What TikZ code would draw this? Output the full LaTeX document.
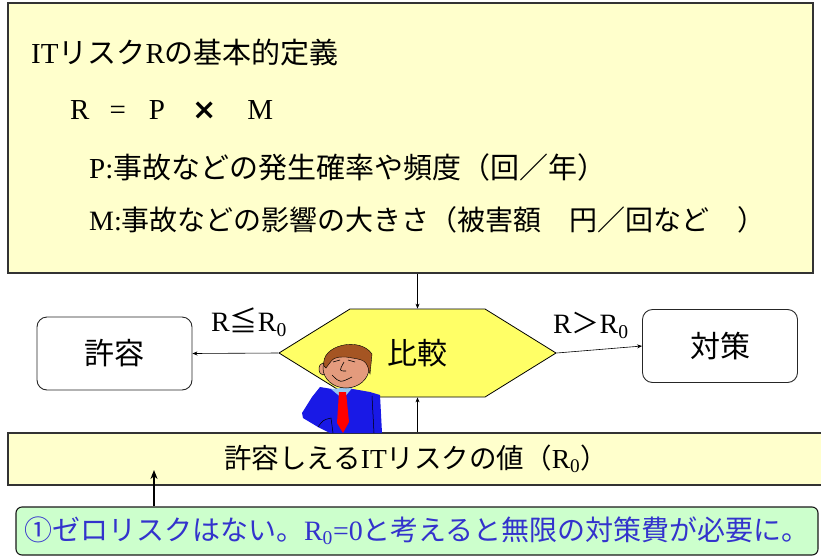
\documentclass[tikz,border=0pt]{standalone}
\usepackage{fontspec}
\setmainfont{Noto Sans CJK JP}
\newfontfamily\lat{Liberation Serif}
\newfontfamily\sym{DejaVu Sans}
\usetikzlibrary{arrows.meta,positioning,calc,shapes.symbols}

\definecolor{paleyellow}{RGB}{255,255,204}
\definecolor{hexyellow}{RGB}{255,255,102}
\definecolor{palegreen}{RGB}{204,255,204}
\definecolor{notetext}{RGB}{51,51,204}
\definecolor{suitblue}{RGB}{25,25,230}
\definecolor{collarblue}{RGB}{150,200,240}
\definecolor{skin}{RGB}{228,155,125}
\definecolor{hairbrown}{RGB}{165,85,35}

\newcommand{\fs}[1]{\fontsize{#1}{#1}\selectfont}
\newcommand{\Rz}{{\lat R\textsubscript{0}}}

\begin{document}
\begin{tikzpicture}[x=1pt, y=-1pt,
    defbox/.style={draw=black!80, line width=1.2pt, fill=paleyellow,
        minimum width=805pt, minimum height=270pt},
    deftext/.style={anchor=west, inner sep=0pt, font=\fs{29}},
    judge/.style={shape=signal, signal to=west and east, signal pointer angle=63.6,
        draw=black, line width=0.8pt, fill=hexyellow, inner sep=0pt,
        minimum width=277pt, minimum height=88pt, font=\fs{30}},
    result/.style={draw=black!85, line width=0.9pt, rounded corners=10pt,
        minimum width=155pt, minimum height=73pt, font=\fs{30}},
    limbox/.style={draw=black!80, line width=1.4pt, fill=paleyellow,
        minimum width=816pt, minimum height=52pt, font=\fs{27.5}},
    notebox/.style={draw=black!90, line width=1.1pt, fill=palegreen, rounded corners=6pt,
        minimum width=802pt, minimum height=48pt, text=notetext, font=\fs{28}},
    lbl/.style={inner sep=0pt, font=\fs{28}},
    conn/.style={-{Stealth[length=5pt,width=4pt]}, line width=0.6pt}]
    \useasboundingbox (0,0) rectangle (821,557);

    % definition of R
    \node[defbox] (def) at (410.5,138) {};
    \node[deftext] (d1) at (31,52) {{\lat IT}リスク{\lat R}の基本的定義};
    \node[deftext] (d2) at (70,110) {{\lat R\hspace{20pt}=\hspace{23pt}P}\hspace{27pt}{\sym\bfseries ×}\hspace{31pt}{\lat M}};
    \node[deftext] (d3) at (89,167) {{\lat P:}事故などの発生確率や頻度（回／年）};
    \node[deftext, font=\fs{28}] (d4) at (89,220) {{\lat M:}事故などの影響の大きさ（被害額　円／回など　）};

    \node[judge] (cmp) at (417.5,353) {比較};
    \node[result] (ok) at (114.5,353.5) {許容};
    \node[result] (act) at (720,346) {対策};
    \node[limbox] (lim) at (416,459) {許容しえる{\lat IT}リスクの値（\Rz）};
    \node[notebox] (note) at (417,531) {①ゼロリスクはない。\Rz{\lat =0}と考えると無限の対策費が必要に。};
    \coordinate (limtip) at (154,470);

    \draw[conn] (def.south -| cmp.north) -- (cmp.north);
    \draw[conn] (cmp.west) -- node[lbl, pos=0.34, yshift=31pt] {{\lat R}≦\Rz} (ok.east);
    \draw[conn] (cmp.east) -- node[lbl, pos=0.4, yshift=25pt] {{\lat R}＞\Rz} (act.west);
    \draw[conn] (lim.north -| cmp.south) -- (cmp.south);

    % the man at the comparison
    \fill[suitblue] (320,387) -- (312,397) -- (302,413) -- (303,418) -- (318,427) -- (330,433)
        -- (382,433) -- (380,395) -- (370,392) -- (353,389) -- (332,389) -- cycle;
    \draw[line width=0.5pt] (318,427) .. controls (323,420) .. (331,418) -- (333,433);
    \draw[line width=0.5pt] (372,396) -- (374,433);
    \fill[collarblue] (331,389) -- (353,387) -- (343,399) -- cycle;
    \fill[red] (339,392) -- (346,392) -- (349,422) -- (343,433) -- (337,423) -- cycle;
    \filldraw[fill=skin, line width=0.5pt] (323,369) ellipse (4 and 6);
    \filldraw[fill=skin, line width=0.5pt] (346,368) ellipse (23 and 20);
    \filldraw[fill=hairbrown, line width=0.4pt] (324,366) .. controls (320,345) and (360,336) .. (372,354)
        -- (370,374) .. controls (366,360) .. (346,357) .. controls (334,357) .. (326,368) -- cycle;
    \draw[line width=0.6pt] (333,362) -- (340,360) (348,360) -- (355,362);
    \draw[line width=0.6pt] (344,362) .. controls (339,371) .. (346,371);
    \draw[line width=0.6pt] (332,375) .. controls (340,383) .. (352,377);

    \draw[-{Stealth[length=9pt,width=7pt]}, line width=2pt] (note.north -| limtip) -- (limtip);
\end{tikzpicture}
\end{document}
